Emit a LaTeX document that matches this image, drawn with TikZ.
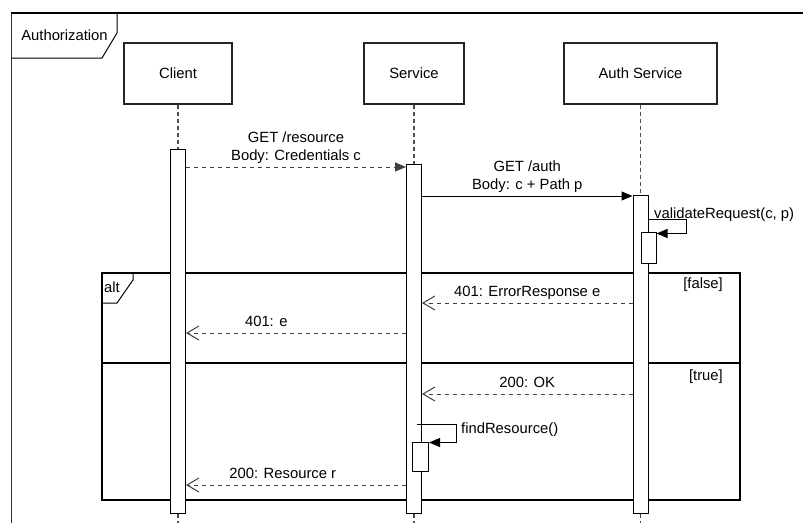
\documentclass[tikz,border=0pt]{standalone}
\usepackage{fontspec}
\setmainfont{Liberation Sans}
\usetikzlibrary{arrows.meta}

\begin{document}
\begin{tikzpicture}[x=1pt,y=-1pt,>=Stealth,font=\fontsize{14.8}{18}\selectfont,
 actor/.style={draw=black!85,line width=1.2pt,minimum width=#1,minimum height=61pt,inner sep=0pt},
 bar/.style={draw,fill=white,line width=1pt,minimum width=15pt,inner sep=0pt},
 life/.style={draw=black!70,line width=1.2pt,dash pattern=on 4pt off 3pt},
 call/.style={-{Triangle[length=11pt,width=9pt]},line width=1pt},
 dashes/.style={draw=black!75,dash pattern=on 4pt off 4pt},
 reply/.style={-{Straight Barb[length=12pt,width=14pt]},line width=1pt,dashes},
 lbl/.style={above,align=center,text depth=3pt,inner sep=3.5pt},
 tag/.style={inner sep=0pt}]
\useasboundingbox (0,0) rectangle (803,522);
\clip (0,0) rectangle (803,522);
\draw[line width=1pt,black!80] (11,540) -- (11,13);
\draw[line width=1.4pt] (11,13) -- (820,13);
\draw[line width=1pt] (11,58) -- (102,58) -- (117,33) -- (117,13);
\node (title) at (64.5,35) {Authorization};
\draw[line width=1.2pt] (102,363) |- (740,500) -- (740,363) -- cycle;
\draw[line width=1.4pt] (102,363) |- (740,273) -- (740,363);
\draw[line width=1pt] (102,303) -- (117,303) -- (133,280) -- (133,273);
\node[tag,anchor=west] (alt) at (104,287) {alt};
\node[tag,anchor=east] (false) at (723,285) {[false]};
\node[tag,anchor=east] (true) at (723,377) {[true]};
\node[actor=108pt] (client) at (178,73.5) {Client};
\node[actor=100pt] (service) at (414,73.5) {Service};
\node[actor=153pt] (auth) at (640.5,73.5) {Auth Service};
\node[bar,minimum height=364pt] (cbar) at (178,331) {};
\node[bar,minimum height=349pt] (sbar) at (414,338.5) {};
\node[bar,minimum height=318pt] (abar) at (640.5,354) {};
\node[bar,minimum height=31pt] (anest) at (648.5,247.5) {};
\node[bar,minimum width=16pt,minimum height=29pt] (snest) at (420.5,456.5) {};
\draw[life] (client) -- (cbar);
\draw[life] (service) -- (sbar);
\draw[life] (auth) -- (abar);
\draw[life] (cbar.south) -- ++(0,12);
\draw[life] (sbar.south) -- ++(0,12);
\draw[life] (abar.south) -- ++(0,12);
\draw[call,dashes] (cbar.east |- 0,167) -- node[lbl] (m1) {GET /resource\\Body: Credentials c} (sbar.west |- 0,167);
\draw[call] (sbar.east |- 0,196) -- node[lbl] (m2) {GET /auth\\Body: c + Path p} (abar.west |- 0,196);
\draw[call] (abar.east |- 0,219) -- ++(38,0) |- ([yshift=-2pt]anest.north east);
\node[tag,anchor=base west] (validate) at (654,218) {validateRequest(c, p)};
\draw[reply] (abar.west |- 0,303) -- node[lbl] (m3) {401: ErrorResponse e} (sbar.east |- 0,303);
\draw[reply] (sbar.west |- 0,333) -- node[lbl,pos=.635] (m4) {401: e} (cbar.east |- 0,333);
\draw[reply] (abar.west |- 0,394) -- node[lbl] (m5) {200: OK} (sbar.east |- 0,394);
\coordinate (find) at (417,424);
\draw[call] (find) -- ++(39,0) |- ([yshift=-1pt]snest.north east);
\node[tag,anchor=base west] (findres) at (461,433) {findResource()};
\draw[reply] (sbar.west |- 0,485) -- node[lbl,pos=.56] (m6) {200: Resource r} (cbar.east |- 0,485);
\end{tikzpicture}
\end{document}
